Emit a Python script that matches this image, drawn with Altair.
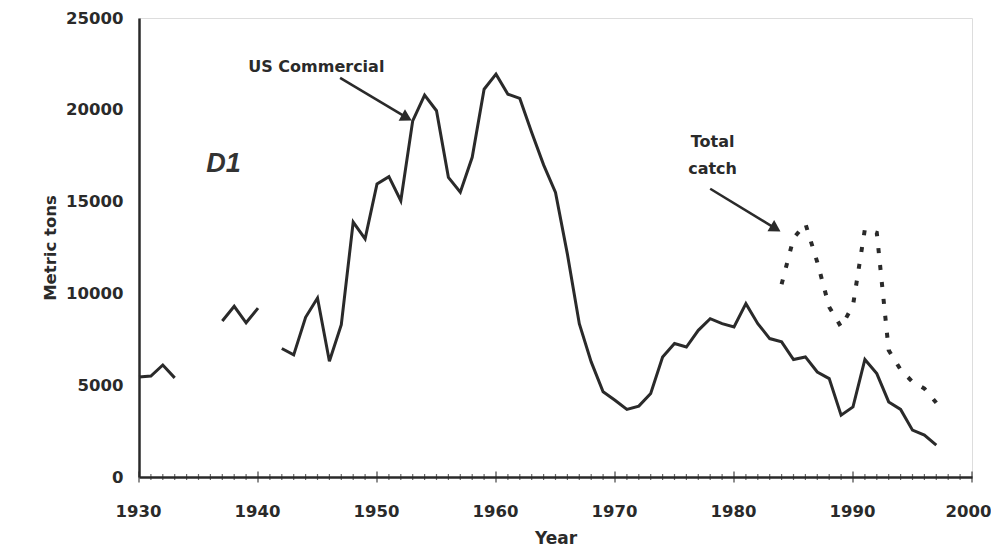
import altair as alt
import pandas as pd

# ---- data ----
us_years = [1930, 1931, 1932, 1933,
            1937, 1938, 1939, 1940,
            1942, 1943, 1944, 1945, 1946, 1947, 1948, 1949, 1950, 1951, 1952,
            1953, 1954, 1955, 1956, 1957, 1958, 1959, 1960, 1961, 1962, 1963,
            1964, 1965, 1966, 1967, 1968, 1969, 1970, 1971, 1972, 1973, 1974,
            1975, 1976, 1977, 1978, 1979, 1980, 1981, 1982, 1983, 1984, 1985,
            1986, 1987, 1988, 1989, 1990, 1991, 1992, 1993, 1994, 1995, 1996,
            1997]
us_tons = [5450, 5500, 6100, 5400,
           8500, 9300, 8400, 9200,
           7000, 6650, 8700, 9750, 6300, 8300, 13880, 12970, 15960, 16360, 15050,
           19400, 20800, 19950, 16320, 15510, 17410, 21120, 21940, 20850, 20620, 18770,
           17000, 15500, 12140, 8350, 6270, 4640, 4180, 3680, 3860, 4550, 6540,
           7270, 7080, 7990, 8620, 8350, 8170, 9440, 8350, 7540, 7360, 6400,
           6540, 5720, 5360, 3370, 3820, 6400, 5630, 4090, 3680, 2550, 2280,
           1740]
us_segment = [1] * 4 + [2] * 4 + [3] * 56

total_years = [1984, 1985, 1986, 1987, 1988, 1989, 1990, 1991, 1992, 1993,
               1994, 1995, 1996, 1997]
total_tons = [10500, 13000, 13800, 11700, 9260, 8170, 9350, 13500, 13300, 6900,
              5850, 5180, 4820, 4040]

tick_years = list(range(1930, 2001))
decade_years = list(range(1930, 2001, 10))
y_ticks = [0, 5000, 10000, 15000, 20000, 25000]

label_text = ["US Commercial", "Total", "catch"]
label_year = [1944.9, 1978.2, 1978.2]
label_tons = [22350, 18220, 16790]

arrow_x1 = [1946.9, 1978.0]
arrow_y1 = [21740, 15700]
arrow_x2 = [1952.5, 1983.5]
arrow_y2 = [19570, 13530]
arrow_angle = [119, 121]

panel_text = ["D1"]
panel_year = [1937.1]
panel_tons = [17060]

W, H = 833, 459
INK = "#2a2a2a"
FONT = "DejaVu Sans"

us_df = pd.DataFrame({"year": us_years, "tons": us_tons, "seg": us_segment})
tot_df = pd.DataFrame({"year": total_years, "tons": total_tons})
ticks_df = pd.DataFrame({"year": tick_years,
                         "major": [y % 10 == 0 for y in tick_years]})
lab_df = pd.DataFrame({"text": label_text, "year": label_year, "tons": label_tons})
arr_df = pd.DataFrame({"x1": arrow_x1, "y1": arrow_y1, "x2": arrow_x2,
                       "y2": arrow_y2, "angle": arrow_angle})
d1_df = pd.DataFrame({"text": panel_text, "year": panel_year, "tons": panel_tons})

xscale = alt.Scale(domain=[1930, 2000], nice=False, zero=False)
yscale = alt.Scale(domain=[0, 25000], nice=False)

x_axis = alt.Axis(values=decade_years, format="d", ticks=False, grid=False,
                  domainColor=INK, domainWidth=2.5, labelFont=FONT,
                  labelFontSize=16.5, labelFontWeight="bold", labelColor=INK,
                  labelPadding=26, labelFlush=False,
                  labelOffset={"condition": {"test": "datum.value == 2000", "value": -4},
                               "value": -1},
                  title="Year",
                  titleFont=FONT, titleFontSize=17, titleFontWeight="bold",
                  titleColor=INK, titleX=W / 2, titleY=61,
                  titleBaseline="middle", titleAlign="center")
y_axis = alt.Axis(values=y_ticks, format="d", ticks=False, grid=False,
                  domainColor=INK, domainWidth=2.5, labelFont=FONT,
                  labelFontSize=16.5, labelFontWeight="bold", labelColor=INK,
                  labelPadding=16, labelFlush=False, title="Metric tons",
                  titleFont=FONT, titleFontSize=16.5, titleFontWeight="bold",
                  titleColor=INK, titleAngle=270, titleX=-89, titleY=H / 2,
                  titleAlign="center", titleBaseline="middle")

us_line = alt.Chart(us_df).mark_line(color=INK, strokeWidth=3, strokeJoin="miter").encode(
    x=alt.X("year:Q", scale=xscale, axis=x_axis),
    y=alt.Y("tons:Q", scale=yscale, axis=y_axis),
    detail="seg:N",
)

tot_line = alt.Chart(tot_df).mark_line(color=INK, strokeWidth=4,
                                       strokeDash=[5, 12]).encode(
    x=alt.X("year:Q", scale=xscale),
    y=alt.Y("tons:Q", scale=yscale),
)

minor_ticks = alt.Chart(ticks_df).transform_filter("!datum.major").mark_tick(
    orient="vertical", size=6, thickness=1.2, color=INK).encode(
    x=alt.X("year:Q", scale=xscale), y=alt.value(H))
major_ticks = alt.Chart(ticks_df).transform_filter("datum.major").mark_tick(
    orient="vertical", size=11, thickness=1.5, color=INK).encode(
    x=alt.X("year:Q", scale=xscale), y=alt.value(H))

labels = alt.Chart(lab_df).mark_text(font=FONT, fontSize=16, fontWeight="bold",
                                     color=INK, baseline="middle", align="center").encode(
    x=alt.X("year:Q", scale=xscale), y=alt.Y("tons:Q", scale=yscale), text="text:N")

d1 = alt.Chart(d1_df).mark_text(font="Liberation Sans", fontSize=27, fontStyle="italic",
                                fontWeight="bold", color="#333", baseline="middle",
                                align="center").encode(
    x=alt.X("year:Q", scale=xscale), y=alt.Y("tons:Q", scale=yscale), text="text:N")

arrow_shaft = alt.Chart(arr_df).mark_rule(color=INK, strokeWidth=2.5).encode(
    x=alt.X("x1:Q", scale=xscale), y=alt.Y("y1:Q", scale=yscale),
    x2="x2:Q", y2="y2:Q")
arrow_head = alt.Chart(arr_df).mark_point(shape="triangle-up", filled=True, size=170,
                                          color=INK, opacity=1).encode(
    x=alt.X("x2:Q", scale=xscale), y=alt.Y("y2:Q", scale=yscale),
    angle=alt.Angle("angle:Q", scale=None))

chart = alt.layer(us_line, tot_line, minor_ticks, major_ticks, labels, d1,
                  arrow_shaft, arrow_head).properties(
    width=W, height=H,
    autosize=alt.AutoSizeParams(type="none"),
    padding={"left": 131, "top": 10, "right": 19, "bottom": 71},
).configure_view(stroke=INK, strokeWidth=1.5).configure(background="white")

chart.save("out.html", embed_options={"renderer": "svg", "actions": False})
